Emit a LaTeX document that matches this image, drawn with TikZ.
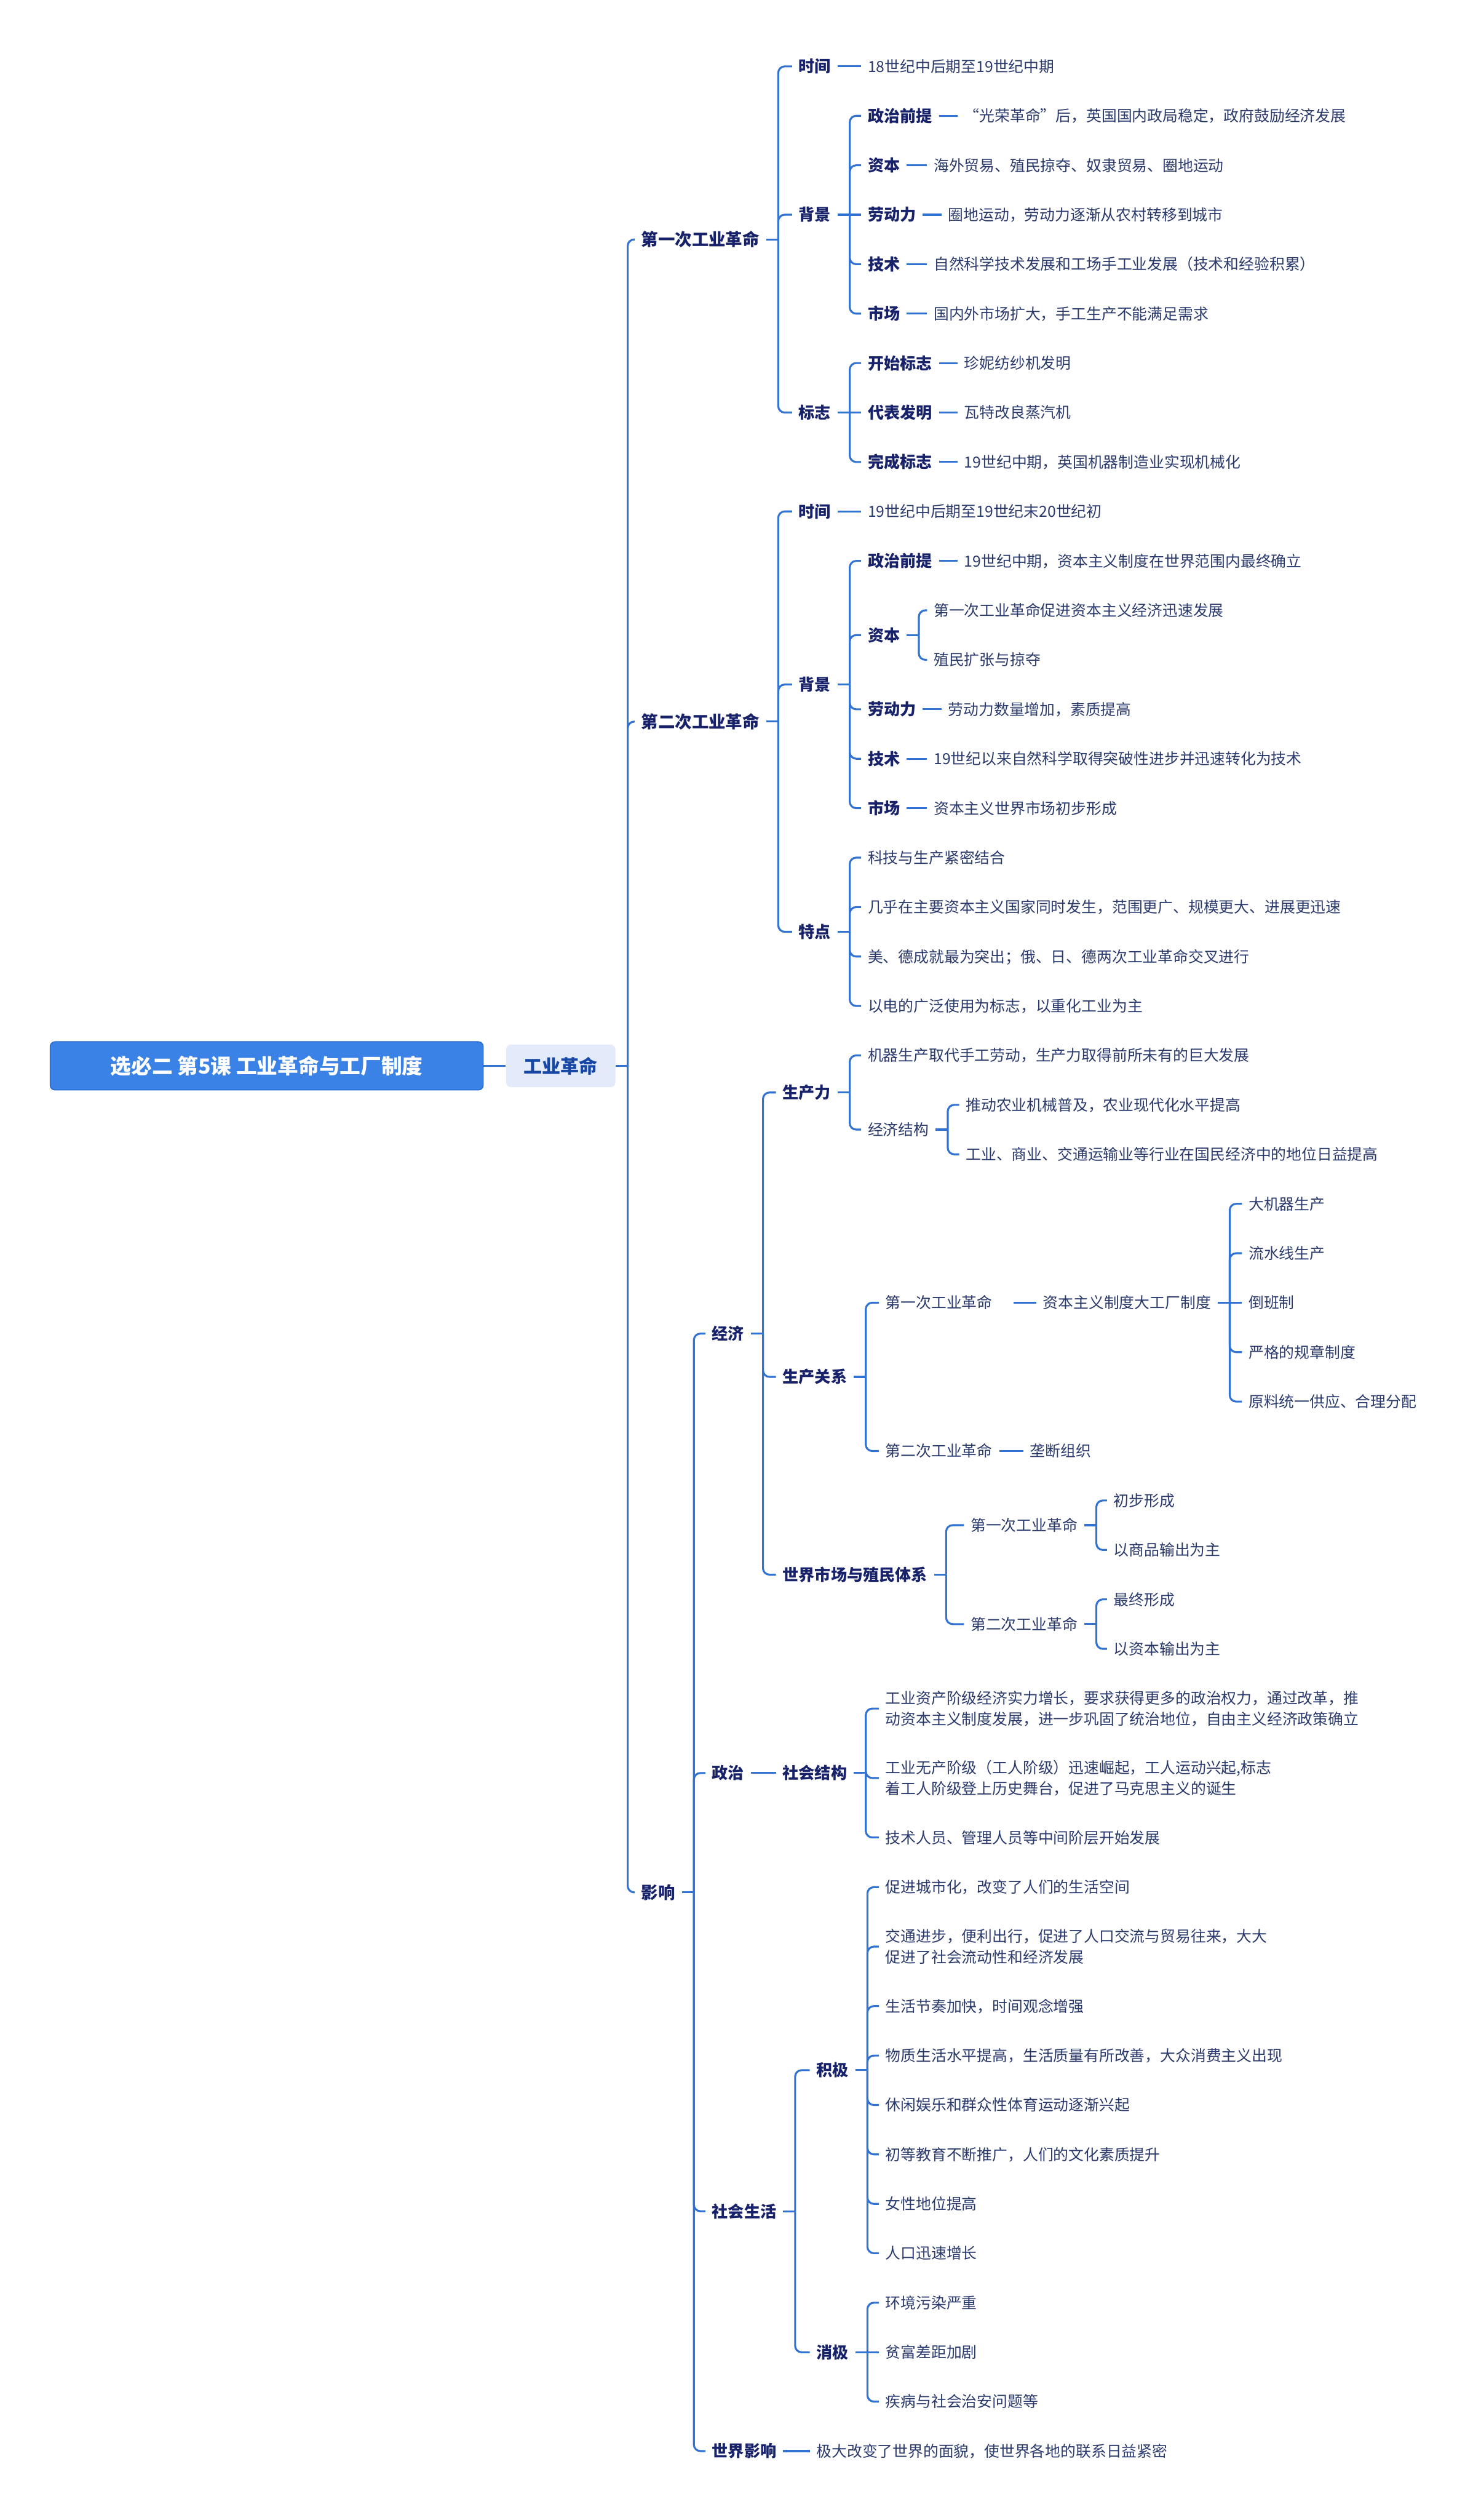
\documentclass[tikz,border=0pt]{standalone}
\usepackage{fontspec}
\setmainfont{Noto Sans CJK SC}
\definecolor{linec}{HTML}{3272D2}
\definecolor{lblc}{HTML}{17226A}
\definecolor{txtc}{HTML}{2B3A6C}
\definecolor{rootc}{HTML}{3A82E6}
\definecolor{rootd}{HTML}{2A6ACB}
\definecolor{subf}{HTML}{E3EBFB}
\definecolor{subt}{HTML}{1747A6}
\tikzset{
 lbl/.style={anchor=west, inner xsep=4pt, inner ysep=1pt, text height=8.8pt, text depth=1.2pt, font=\bfseries\fontsize{10}{12}\selectfont, text=lblc},
 lbltwo/.style={lbl, text height=9.24pt, text depth=1.26pt, font=\bfseries\fontsize{10.5}{12}\selectfont},
 txt/.style={anchor=west, inner xsep=4pt, inner ysep=1pt, text height=8.36pt, text depth=1.14pt, font=\fontsize{9.5}{12}\selectfont, text=txtc},
 txtml/.style={anchor=west, inner xsep=4pt, inner ysep=1pt, align=left, font=\fontsize{9.5}{12.9}\selectfont, text=txtc},
 conn/.style={draw=linec, line width=1.2pt},
 elbow/.style={conn, rounded corners=4pt},
 rootbox/.style={fill=rootc, draw=rootd, line width=0.6pt, rounded corners=3pt, minimum width=269.5pt, minimum height=30pt, inner sep=0pt, text=white, font=\bfseries\fontsize{12.9}{15}\selectfont},
 subbox/.style={fill=subf, draw=none, rounded corners=3pt, minimum width=68pt, minimum height=26.5pt, inner sep=0pt, text=subt, font=\bfseries\fontsize{11.5}{13}\selectfont},
}
\newcommand\mmtrunk[1]{\draw[conn] (#1.east) -- ++(7.5,0) coordinate (#1-j);}
\newcommand\mmkid[2]{\draw[elbow] (#1-j) |- (#2.west);}
\newcommand\mmstraight[2]{\draw[conn] (#1-j) -- (#2.west);}
\newcommand\mmline[2]{\draw[conn] (#1.east) -- (#2.west);}
\begin{document}
\begin{tikzpicture}[x=1pt,y=-1pt]
\fill[white] (0,0) rectangle (916.5,1568);
\useasboundingbox (0,0) rectangle (916.5,1568);

% root
\node[rootbox] (root) at (166,663.2) {选必二 第5课 工业革命与工厂制度};
\node[subbox] (gy) at (349,663.2) {工业革命};
\mmline{root}{gy}

% level 2
\node[lbltwo] (r1) at (395,149) {第一次工业革命};
\node[lbltwo] (r2) at (395,449) {第二次工业革命};
\node[lbltwo] (r3) at (395,1177.45) {影响};
\mmtrunk{gy}\mmkid{gy}{r1}\mmkid{gy}{r2}\mmkid{gy}{r3}

% ===== 第一次工业革命
\node[lbl] (a1) at (493,41.3) {时间};
\node[txt] (a1t) at (536,41.3) {18世纪中后期至19世纪中期};
\node[lbl] (a2) at (493,133.61) {背景};
\node[lbl] (a3) at (493,256.69) {标志};
\mmtrunk{r1}\mmkid{r1}{a1}\mmkid{r1}{a2}\mmkid{r1}{a3}
\mmline{a1}{a1t}

\node[lbl] (b1) at (536,72.07) {政治前提};
\node[txt] (b1t) at (596,72.07) {“光荣革命”后，英国国内政局稳定，政府鼓励经济发展};
\node[lbl] (b2) at (536,102.84) {资本};
\node[txt] (b2t) at (577,102.84) {海外贸易、殖民掠夺、奴隶贸易、圈地运动};
\node[lbl] (b3) at (536,133.61) {劳动力};
\node[txt] (b3t) at (586,133.61) {圈地运动，劳动力逐渐从农村转移到城市};
\node[lbl] (b4) at (536,164.38) {技术};
\node[txt] (b4t) at (577,164.38) {自然科学技术发展和工场手工业发展（技术和经验积累）};
\node[lbl] (b5) at (536,195.15) {市场};
\node[txt] (b5t) at (577,195.15) {国内外市场扩大，手工生产不能满足需求};
\mmtrunk{a2}\mmkid{a2}{b1}\mmkid{a2}{b2}\mmstraight{a2}{b3}\mmkid{a2}{b4}\mmkid{a2}{b5}
\mmline{b1}{b1t}\mmline{b2}{b2t}\mmline{b3}{b3t}\mmline{b4}{b4t}\mmline{b5}{b5t}

\node[lbl] (c1) at (536,225.92) {开始标志};
\node[txt] (c1t) at (596,225.92) {珍妮纺纱机发明};
\node[lbl] (c2) at (536,256.69) {代表发明};
\node[txt] (c2t) at (596,256.69) {瓦特改良蒸汽机};
\node[lbl] (c3) at (536,287.46) {完成标志};
\node[txt] (c3t) at (596,287.46) {19世纪中期，英国机器制造业实现机械化};
\mmtrunk{a3}\mmkid{a3}{c1}\mmstraight{a3}{c2}\mmkid{a3}{c3}
\mmline{c1}{c1t}\mmline{c2}{c2t}\mmline{c3}{c3t}

% ===== 第二次工业革命
\node[lbl] (d1) at (493,318.23) {时间};
\node[txt] (d1t) at (536,318.23) {19世纪中后期至19世纪末20世纪初};
\node[lbl] (d2) at (493,425.93) {背景};
\node[lbl] (d3) at (493,579.78) {特点};
\mmtrunk{r2}\mmkid{r2}{d1}\mmkid{r2}{d2}\mmkid{r2}{d3}
\mmline{d1}{d1t}

\node[lbl] (l1) at (536,349.0) {政治前提};
\node[txt] (l1t) at (596,349.0) {19世纪中期，资本主义制度在世界范围内最终确立};
\node[lbl] (l2) at (536,395.16) {资本};
\node[txt] (l2a) at (577,379.77) {第一次工业革命促进资本主义经济迅速发展};
\node[txt] (l2b) at (577,410.54) {殖民扩张与掠夺};
\node[lbl] (l3) at (536,441.31) {劳动力};
\node[txt] (l3t) at (586,441.31) {劳动力数量增加，素质提高};
\node[lbl] (l4) at (536,472.08) {技术};
\node[txt] (l4t) at (577,472.08) {19世纪以来自然科学取得突破性进步并迅速转化为技术};
\node[lbl] (l5) at (536,502.85) {市场};
\node[txt] (l5t) at (577,502.85) {资本主义世界市场初步形成};
\mmtrunk{d2}\mmkid{d2}{l1}\mmkid{d2}{l2}\mmkid{d2}{l3}\mmkid{d2}{l4}\mmkid{d2}{l5}
\mmline{l1}{l1t}\mmline{l3}{l3t}\mmline{l4}{l4t}\mmline{l5}{l5t}
\mmtrunk{l2}\mmkid{l2}{l2a}\mmkid{l2}{l2b}

\node[txt] (t1) at (536,533.62) {科技与生产紧密结合};
\node[txt] (t2) at (536,564.39) {几乎在主要资本主义国家同时发生，范围更广、规模更大、进展更迅速};
\node[txt] (t3) at (536,595.16) {美、德成就最为突出；俄、日、德两次工业革命交叉进行};
\node[txt] (t4) at (536,625.93) {以电的广泛使用为标志，以重化工业为主};
\mmtrunk{d3}\mmkid{d3}{t1}\mmkid{d3}{t2}\mmkid{d3}{t3}\mmkid{d3}{t4}

% ===== 影响
\node[lbl] (e1) at (439,829.8) {经济};
\node[lbl] (e2) at (439,1103.2) {政治};
\node[lbl] (e3) at (439,1375.85) {社会生活};
\node[lbl] (e4) at (439,1525.1) {世界影响};
\node[txt] (e4t) at (504,1525.1) {极大改变了世界的面貌，使世界各地的联系日益紧密};
\mmtrunk{r3}\mmkid{r3}{e1}\mmkid{r3}{e2}\mmkid{r3}{e3}\mmkid{r3}{e4}
\mmline{e4}{e4t}

% 经济
\node[lbl] (f1) at (483,679.78) {生产力};
\node[lbl] (f2) at (483,856.7) {生产关系};
\node[lbl] (f3) at (483,979.78) {世界市场与殖民体系};
\mmtrunk{e1}\mmkid{e1}{f1}\mmkid{e1}{f2}\mmkid{e1}{f3}

\node[txt] (g1) at (536,656.7) {机器生产取代手工劳动，生产力取得前所未有的巨大发展};
\node[txt] (g2) at (536,702.86) {经济结构};
\mmtrunk{f1}\mmkid{f1}{g1}\mmkid{f1}{g2}
\node[txt] (g21) at (597,687.47) {推动农业机械普及，农业现代化水平提高};
\node[txt] (g22) at (597,718.24) {工业、商业、交通运输业等行业在国民经济中的地位日益提高};
\mmtrunk{g2}\mmkid{g2}{g21}\mmkid{g2}{g22}

\node[txt] (h1) at (547,810.55) {第一次工业革命};
\node[txt] (h1t) at (645,810.55) {资本主义制度大工厂制度};
\node[txt] (h2) at (547,902.86) {第二次工业革命};
\node[txt] (h2t) at (637,902.86) {垄断组织};
\mmtrunk{f2}\mmkid{f2}{h1}\mmkid{f2}{h2}
\draw[conn, shorten <=9pt] (h1.east) -- (h1t.west);
\mmline{h2}{h2t}
\node[txt] (m1) at (773,749.01) {大机器生产};
\node[txt] (m2) at (773,779.78) {流水线生产};
\node[txt] (m3) at (773,810.55) {倒班制};
\node[txt] (m4) at (773,841.32) {严格的规章制度};
\node[txt] (m5) at (773,872.09) {原料统一供应、合理分配};
\mmtrunk{h1t}\mmkid{h1t}{m1}\mmkid{h1t}{m2}\mmstraight{h1t}{m3}\mmkid{h1t}{m4}\mmkid{h1t}{m5}

\node[txt] (i1) at (600,949.0) {第一次工业革命};
\node[txt] (i2) at (600,1010.55) {第二次工业革命};
\mmtrunk{f3}\mmkid{f3}{i1}\mmkid{f3}{i2}
\node[txt] (i11) at (689,933.63) {初步形成};
\node[txt] (i12) at (689,964.4) {以商品输出为主};
\node[txt] (i21) at (689,995.17) {最终形成};
\node[txt] (i22) at (689,1025.94) {以资本输出为主};
\mmtrunk{i1}\mmkid{i1}{i11}\mmkid{i1}{i12}
\mmtrunk{i2}\mmkid{i2}{i21}\mmkid{i2}{i22}

% 政治
\node[lbl] (s0) at (483,1103.2) {社会结构};
\mmline{e2}{s0}
\node[txtml] (s1) at (547,1063.1) {工业资产阶级经济实力增长，要求获得更多的政治权力，通过改革，推\\动资本主义制度发展，进一步巩固了统治地位，自由主义经济政策确立};
\node[txtml] (s2) at (547,1106.3) {工业无产阶级（工人阶级）迅速崛起，工人运动兴起,标志\\着工人阶级登上历史舞台，促进了马克思主义的诞生};
\node[txt] (s3) at (547,1143.3) {技术人员、管理人员等中间阶层开始发展};
\mmtrunk{s0}\mmkid{s0}{s1}\mmkid{s0}{s2}\mmkid{s0}{s3}

% 社会生活
\node[lbl] (k1) at (504,1288.1) {积极};
\node[lbl] (k2) at (504,1463.6) {消极};
\mmtrunk{e3}\mmkid{e3}{k1}\mmkid{e3}{k2}
\node[txt] (p1) at (547,1174.2) {促进城市化，改变了人们的生活空间};
\node[txtml] (p2) at (547,1211.2) {交通进步，便利出行，促进了人口交流与贸易往来，大大\\促进了社会流动性和经济发展};
\node[txt] (p3) at (547,1248.2) {生活节奏加快，时间观念增强};
\node[txt] (p4) at (547,1279.0) {物质生活水平提高，生活质量有所改善，大众消费主义出现};
\node[txt] (p5) at (547,1309.8) {休闲娱乐和群众性体育运动逐渐兴起};
\node[txt] (p6) at (547,1340.5) {初等教育不断推广，人们的文化素质提升};
\node[txt] (p7) at (547,1371.3) {女性地位提高};
\node[txt] (p8) at (547,1402.0) {人口迅速增长};
\mmtrunk{k1}\mmkid{k1}{p1}\mmkid{k1}{p2}\mmkid{k1}{p3}\mmkid{k1}{p4}\mmkid{k1}{p5}\mmkid{k1}{p6}\mmkid{k1}{p7}\mmkid{k1}{p8}
\node[txt] (q1) at (547,1432.8) {环境污染严重};
\node[txt] (q2) at (547,1463.6) {贫富差距加剧};
\node[txt] (q3) at (547,1494.3) {疾病与社会治安问题等};
\mmtrunk{k2}\mmkid{k2}{q1}\mmstraight{k2}{q2}\mmkid{k2}{q3}
\end{tikzpicture}
\end{document}
